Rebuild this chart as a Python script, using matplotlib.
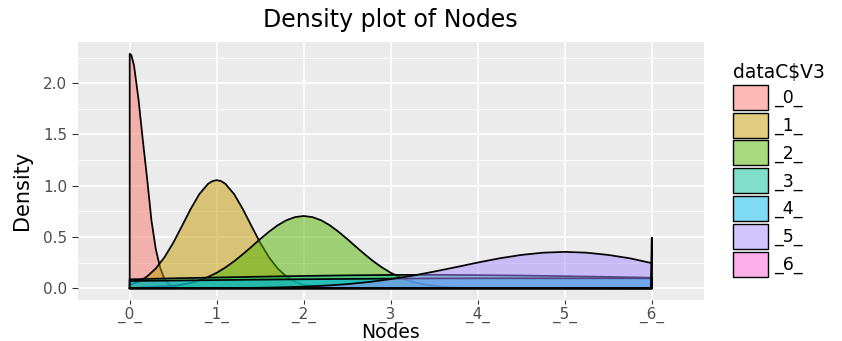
import numpy as np
import matplotlib
matplotlib.use("Agg")
import matplotlib.pyplot as plt
from matplotlib.patches import Patch

# group labels and ggplot hue colours
groups = ["_0_", "_1_", "_2_", "_3_", "_4_", "_5_", "_6_"]
colors = ["#F8766D", "#C49A00", "#53B400", "#00C094", "#00B6EB", "#A58AFF", "#FB61D7"]

# density curves (x in node units, y = density)
x0 = [0, 0.02, 0.05, 0.1, 0.15, 0.2, 0.25, 0.3, 0.35, 0.4, 0.45, 0.5, 0.6, 0.7, 6]
y0 = [2.29, 2.27, 2.17, 1.85, 1.45, 1.07, 0.66, 0.38, 0.2, 0.09, 0.04, 0.015, 0.003, 0, 0]

x1 = [0, 0.1, 0.2, 0.3, 0.4, 0.5, 0.6, 0.7, 0.8, 0.9, 0.95, 1.0, 1.05, 1.1, 1.2, 1.3,
      1.4, 1.5, 1.6, 1.7, 1.8, 1.9, 2.0, 2.2, 2.4, 3, 6]
y1 = [0.033, 0.064, 0.115, 0.193, 0.303, 0.443, 0.606, 0.772, 0.918, 1.018, 1.045,
      1.054, 1.045, 1.018, 0.918, 0.772, 0.606, 0.443, 0.303, 0.193, 0.115, 0.064,
      0.033, 0.007, 0.001, 0, 0]

x2 = [0, 0.5, 0.7, 0.8, 0.9, 1.0, 1.1, 1.2, 1.3, 1.4, 1.5, 1.6, 1.7, 1.8, 1.9, 2.0,
      2.1, 2.2, 2.3, 2.4, 2.5, 2.6, 2.7, 2.8, 2.9, 3.0, 3.1, 3.2, 3.3, 3.4, 3.6, 3.8,
      4.0, 6]
y2 = [0.0015, 0.022, 0.052, 0.077, 0.11, 0.151, 0.203, 0.263, 0.332, 0.405, 0.48,
      0.551, 0.614, 0.663, 0.694, 0.705, 0.694, 0.663, 0.614, 0.551, 0.48, 0.405,
      0.332, 0.263, 0.203, 0.151, 0.11, 0.077, 0.052, 0.035, 0.014, 0.005, 0.002, 0]

x3 = [0, 0.5, 1, 1.5, 2, 2.5, 3, 3.5, 4, 4.5, 5, 5.5, 6]
y3 = [0.087, 0.097, 0.105, 0.113, 0.12, 0.126, 0.13, 0.131, 0.128, 0.124, 0.118,
      0.111, 0.103]

x4 = [0, 0.5, 1, 1.5, 2, 2.5, 3, 3.5, 4, 4.5, 5, 5.5, 6]
y4 = [0.071, 0.075, 0.08, 0.084, 0.088, 0.091, 0.094, 0.096, 0.097, 0.097, 0.097,
      0.097, 0.097]

x5 = [0, 0.5, 0.75, 1, 1.25, 1.5, 1.75, 2, 2.25, 2.5, 2.75, 3, 3.25, 3.5, 3.75, 4,
      4.25, 4.5, 4.75, 5, 5.25, 5.5, 5.75, 6]
y5 = [0.0001, 0.0003, 0.0007, 0.0014, 0.0027, 0.005, 0.0091, 0.016, 0.0257, 0.04,
      0.0612, 0.089, 0.1226, 0.163, 0.206, 0.251, 0.292, 0.325, 0.347, 0.355, 0.347,
      0.325, 0.292, 0.245]

x6 = [0, 5.99, 6]
y6 = [0, 0, 0.5]

xs = [x0, x1, x2, x3, x4, x5, x6]
ys = [y0, y1, y2, y3, y4, y5, y6]

W, H = 842, 341
fig = plt.figure(figsize=(W / 100, H / 100), dpi=100)
fig.patch.set_facecolor("white")

# panel in pixel terms: x 77.5..704, y 41.7..300
ax = fig.add_axes([77.5 / W, 1 - 300 / H, (704 - 77.5) / W, (300 - 41.7) / H])
ax.set_facecolor("#EBEBEB")

for x, y, c in zip(xs, ys, colors):
    x = np.asarray(x, float)
    y = np.asarray(y, float)
    px = np.r_[x[0], x, x[-1]]
    py = np.r_[0, y, 0]
    ax.fill(px, py, facecolor=matplotlib.colors.to_rgba(c, 0.5),
            edgecolor="black", linewidth=1.25, zorder=3)

ax.set_xlim(-0.6, 6.6)
ax.set_ylim(-0.1145, 2.4045)

ax.set_xticks(range(len(groups)))
ax.set_xticklabels(groups)
ax.set_yticks([0, 0.5, 1.0, 1.5, 2.0])
ax.set_yticklabels(["0.0", "0.5", "1.0", "1.5", "2.0"])
ax.set_yticks([0.25, 0.75, 1.25, 1.75, 2.25], minor=True)

ax.grid(True, which="major", color="white", linewidth=1.2, zorder=0)
ax.grid(True, which="minor", axis="y", color="white", linewidth=0.6, zorder=0)
ax.set_axisbelow(True)

for s in ax.spines.values():
    s.set_visible(False)

ax.tick_params(axis="x", which="major", length=2.6, width=0.8, color="#333333",
               labelsize=11, labelcolor="#4D4D4D", pad=2.5)
ax.tick_params(axis="y", which="major", length=4.3, width=0.8, color="#333333",
               labelsize=11, labelcolor="#4D4D4D", pad=3)
ax.tick_params(which="minor", length=0)

fig.text(390.7 / W, 1 - 20 / H, "Density plot of Nodes", ha="center", va="center",
         fontsize=17, color="black")
fig.text(390.7 / W, 1 - 333 / H, "Nodes", ha="center", va="center",
         fontsize=13.5, color="black")
fig.text(22 / W, 1 - 190 / H, "Density", ha="center", va="center", rotation=90,
         fontsize=15, color="black")

# legend keys: 35 x 25 px boxes, 27.8 px pitch
fs = 12.5
pt = 72 / 100
key_h = 25 * pt / fs
hh = (key_h - 0.245) / 0.65
handles = [Patch(facecolor=matplotlib.colors.to_rgba(c, 0.5), edgecolor="black",
                 linewidth=1.0) for c in colors]
leg = ax.legend(handles, groups, loc="upper left",
                bbox_to_anchor=(733 / W, 1 - 63 / H), bbox_transform=fig.transFigure,
                frameon=False, fontsize=fs, title="dataC$V3", title_fontsize=13.5,
                handlelength=35 * pt / fs, handleheight=hh,
                labelspacing=2.8 * pt / fs, handletextpad=6 * pt / fs,
                borderpad=0, borderaxespad=0, alignment="left")
for t in leg.get_texts():
    t.set_color("black")

fig.savefig("out.png", dpi=100)
